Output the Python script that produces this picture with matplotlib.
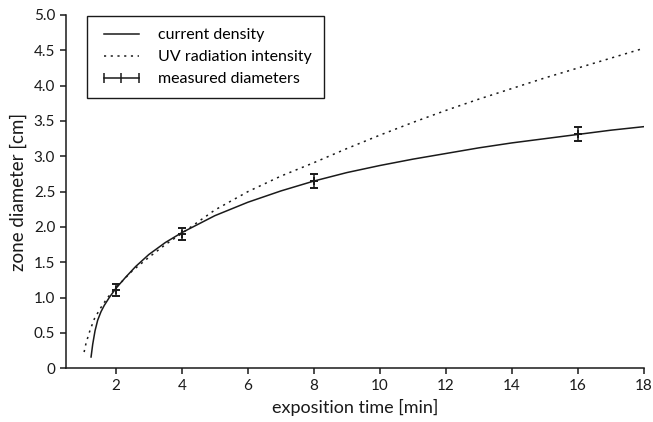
import matplotlib.pyplot as plt
from matplotlib.lines import Line2D
from matplotlib.ticker import FuncFormatter

plt.rcParams['font.family'] = ['Lato', 'DejaVu Sans']

# current density model curve
cd_x = [1.25, 1.3, 1.37, 1.45, 1.55, 1.65, 1.8, 2.0, 2.3, 2.6, 3.0, 3.5, 4.0,
        5, 6, 7, 8, 9, 10, 11, 12, 13, 14, 15, 16, 17, 18]
cd_y = [0.16, 0.34, 0.53, 0.68, 0.80, 0.89, 1.00, 1.13, 1.29, 1.44, 1.61, 1.78, 1.92,
        2.16, 2.35, 2.51, 2.65, 2.77, 2.87, 2.96, 3.04, 3.12, 3.19, 3.25, 3.31, 3.37, 3.42]

# UV radiation intensity model curve
uv_x = [1.04, 1.1, 1.22, 1.35, 1.52, 1.75, 2.0, 2.5, 3.0, 3.5, 4.0,
        5, 6, 7, 8, 9, 10, 11, 12, 13, 14, 15, 16, 17, 18]
uv_y = [0.23, 0.36, 0.54, 0.70, 0.84, 1.00, 1.14, 1.38, 1.57, 1.75, 1.91,
        2.24, 2.50, 2.72, 2.91, 3.11, 3.30, 3.48, 3.65, 3.81, 3.96, 4.11, 4.25, 4.39, 4.53]

# measurements
meas_t = [2, 4, 8, 16]
meas_d = [1.11, 1.90, 2.65, 3.31]
meas_err = [0.09, 0.09, 0.10, 0.10]

ink = '#1a1a1a'
dots = (0, (1.4, 3.0))

fig = plt.figure(figsize=(6.53, 4.22), dpi=100)
ax = fig.add_axes([66.3 / 653, 1 - 368.3 / 422, (644 - 66.3) / 653, (368.3 - 15) / 422])

ax.plot(cd_x, cd_y, color=ink, lw=1.1)
ax.plot(uv_x, uv_y, color=ink, lw=1.1, linestyle=dots)
ax.errorbar(meas_t, meas_d, yerr=meas_err, fmt='+', color=ink, ms=6, mew=1.4,
            elinewidth=1.1, capsize=3, capthick=1.1)

ax.set_xlim(0.5, 18)
ax.set_ylim(0, 5)
ax.set_xticks(range(2, 19, 2))
ax.set_yticks([i * 0.5 for i in range(11)])
ax.yaxis.set_major_formatter(FuncFormatter(lambda v, p: '0' if v == 0 else f'{v:.1f}'))

for s in ['top', 'right']:
    ax.spines[s].set_visible(False)
for s in ['left', 'bottom']:
    ax.spines[s].set_linewidth(1.1)
    ax.spines[s].set_color(ink)
ax.tick_params(direction='out', length=4.5, width=1.1, colors=ink, labelsize=11)

ax.set_xlabel('exposition time [min]', fontsize=13, color=ink, labelpad=4)
ax.set_ylabel('zone diameter [cm]', fontsize=13.5, color=ink, labelpad=5)

handles = [
    Line2D([], [], color=ink, lw=1.1),
    Line2D([], [], color=ink, lw=1.1, linestyle=dots),
    Line2D([], [], color=ink, lw=1.1, marker='|', ms=7, mew=1.1),
]
labels = ['current density', 'UV radiation intensity', 'measured diameters']
leg = ax.legend(handles, labels, loc='upper left', bbox_to_anchor=(87 / 653, 1 - 16 / 422),
                bbox_transform=fig.transFigure, borderaxespad=0, fancybox=False,
                edgecolor=ink, framealpha=1, fontsize=11.5, handlelength=2.8,
                handletextpad=0.9, labelspacing=0.5, numpoints=3, borderpad=0.75)
leg.get_frame().set_linewidth(1.0)

fig.savefig('out.png', dpi=100)
